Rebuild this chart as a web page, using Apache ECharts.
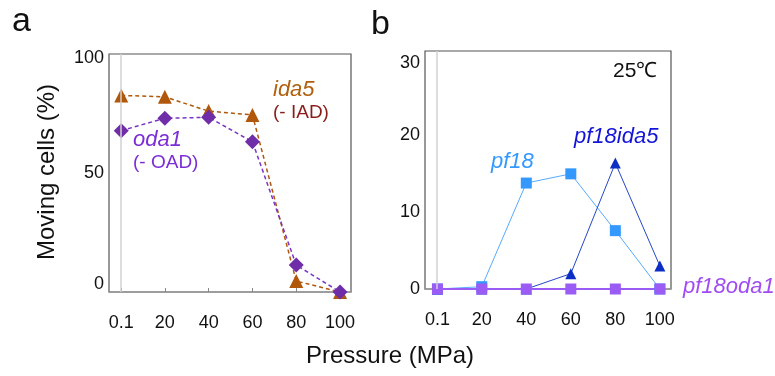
<!DOCTYPE html>
<html>
<head>
<meta charset="utf-8">
<script src="https://cdn.jsdelivr.net/npm/echarts@6/dist/echarts.min.js"></script>
<style>
  html, body { margin: 0; padding: 0; background: #fff; }
  #chart { width: 775px; height: 376px; }
</style>
</head>
<body>
<div id="chart"></div>
<script>
// pressure steps (MPa) and their tick labels
const pressures = [0.1, 20, 40, 60, 80, 100]
const pressureLabels = ['0.1', '20', '40', '60', '80', '100']

// panel a: moving cells (%)
const ida5 = [82.6, 82, 76, 74.4, 4.6, 0]
const oda1 = [67.8, 73, 73.4, 63.1, 11.3, 0]
const ticksA = [0, 50, 100]

// panel b: moving cells (%) at 25 C
const pf18 = [0, 0.3, 13.8, 15, 7.6, 0]
const pf18ida5 = [0, 0, 0, 2, 16.4, 3]
const pf18oda1 = [0, 0, 0, 0, 0, 0]
const ticksB = [0, 10, 20, 30]

const FONT = "'Liberation Sans', Arial, sans-serif"
const pairs = vals => vals.map((v, i) => [pressures[i], v])

const chart = echarts.init(document.getElementById('chart'), null, { renderer: 'canvas' })

const zeroLine = {
  silent: true,
  symbol: ['none', 'none'],
  label: { show: false },
  lineStyle: { color: '#d2d2d2', type: 'solid', width: 1.5 },
  data: [{ xAxis: 0 }],
}

const xAxisBase = (gridIndex) => ({
  type: 'value',
  gridIndex,
  min: -5.5,
  max: 105,
  offset: 12,
  axisLine: { lineStyle: { color: '#999', width: 1.5 } },
  axisTick: { inside: true, length: 4, customValues: pressures, lineStyle: { color: '#888' } },
  axisLabel: {
    customValues: pressures,
    formatter: v => pressureLabels[pressures.indexOf(v)] ?? '',
    color: '#111', fontSize: 18, fontFamily: FONT, margin: 10,
  },
  splitLine: { show: false },
})

// end labels sit a little inside the frame, as in the original figure
const yAxisBase = (gridIndex, max, ticks, shiftMin) => ({
  type: 'value',
  gridIndex,
  min: 0,
  max,
  axisLine: { show: false },
  axisTick: { show: false },
  axisLabel: {
    customValues: ticks,
    formatter: v => v === ticks[ticks.length - 1] ? '{top|' + v + '}'
      : (v === 0 && shiftMin ? '{bot|' + v + '}' : String(v)),
    rich: {
      top: { fontSize: 18, fontFamily: FONT, color: '#111', padding: [8, 0, 0, 0] },
      bot: { fontSize: 18, fontFamily: FONT, color: '#111', padding: [0, 0, 15, 0] },
    },
    color: '#111', fontSize: 18, fontFamily: FONT, margin: 5,
  },
  splitLine: { show: false },
})

const text = (x, y, str, color, size, opts = {}) => ({
  type: 'text', x, y,
  style: Object.assign({
    text: str, fill: color, fontSize: size, fontFamily: FONT,
    verticalAlign: 'middle', align: 'left',
  }, opts),
})

const option = {
  animation: false,
  backgroundColor: '#fff',
  grid: [
    { left: 109, top: 54, width: 242, height: 238, show: true, borderColor: '#555', borderWidth: 1.2 },
    { left: 425, top: 51, width: 246, height: 238, show: true, borderColor: '#555', borderWidth: 1.2 },
  ],
  xAxis: [xAxisBase(0), xAxisBase(1)],
  yAxis: [
    yAxisBase(0, 100, ticksA, true),
    yAxisBase(1, 31, ticksB, false),
  ],
  series: [
    {
      name: 'ida5', type: 'line', xAxisIndex: 0, yAxisIndex: 0,
      data: pairs(ida5),
      symbol: 'triangle', symbolSize: 14,
      itemStyle: { color: '#b0570b' },
      lineStyle: { color: '#b0570b', width: 1.5, type: [4, 3] },
      markLine: zeroLine,
    },
    {
      name: 'oda1', type: 'line', xAxisIndex: 0, yAxisIndex: 0,
      data: pairs(oda1),
      symbol: 'diamond', symbolSize: 15,
      itemStyle: { color: '#6f2da8' },
      lineStyle: { color: '#7a35c8', width: 1.5, type: [4, 3] },
    },
    {
      name: 'pf18', type: 'line', xAxisIndex: 1, yAxisIndex: 1,
      data: pairs(pf18),
      symbol: 'rect', symbolSize: 11,
      itemStyle: { color: '#3399ff' },
      lineStyle: { color: '#55aaff', width: 1 },
      markLine: zeroLine,
    },
    {
      name: 'pf18ida5', type: 'line', xAxisIndex: 1, yAxisIndex: 1,
      data: pairs(pf18ida5),
      symbol: 'triangle', symbolSize: 11,
      itemStyle: { color: '#0b2fc4' },
      lineStyle: { color: '#2346c8', width: 1 },
    },
    {
      name: 'pf18oda1', type: 'line', xAxisIndex: 1, yAxisIndex: 1,
      data: pairs(pf18oda1),
      symbol: 'rect', symbolSize: 11,
      itemStyle: { color: '#9a5cf5' },
      lineStyle: { color: '#9a5cf5', width: 2 },
    },
  ],
  graphic: [
    text(12, 22, 'a', '#111', 34),
    text(371, 25, 'b', '#111', 34),
    {
      type: 'text', x: 47, y: 172, rotation: Math.PI / 2,
      style: {
        text: 'Moving cells (%)', fill: '#111', fontSize: 24, fontFamily: FONT,
        align: 'center', verticalAlign: 'middle',
      },
    },
    text(390, 356, 'Pressure (MPa)', '#111', 24, { align: 'center' }),
    text(273, 90, 'ida5', '#b0600f', 22, { fontStyle: 'italic' }),
    text(273, 113, '(- IAD)', '#8b1c1c', 19),
    text(133, 140, 'oda1', '#7b2ed6', 22, { fontStyle: 'italic' }),
    text(133, 163, '(- OAD)', '#7b2ed6', 19),
    text(613, 71, '25℃', '#111', 21),
    text(574, 137, 'pf18ida5', '#1414d8', 22, { fontStyle: 'italic' }),
    text(491, 162, 'pf18', '#3399ff', 22, { fontStyle: 'italic' }),
    text(683, 287, 'pf18oda1', '#a04cf2', 22, { fontStyle: 'italic' }),
  ],
}

chart.setOption(option)
</script>
</body>
</html>
